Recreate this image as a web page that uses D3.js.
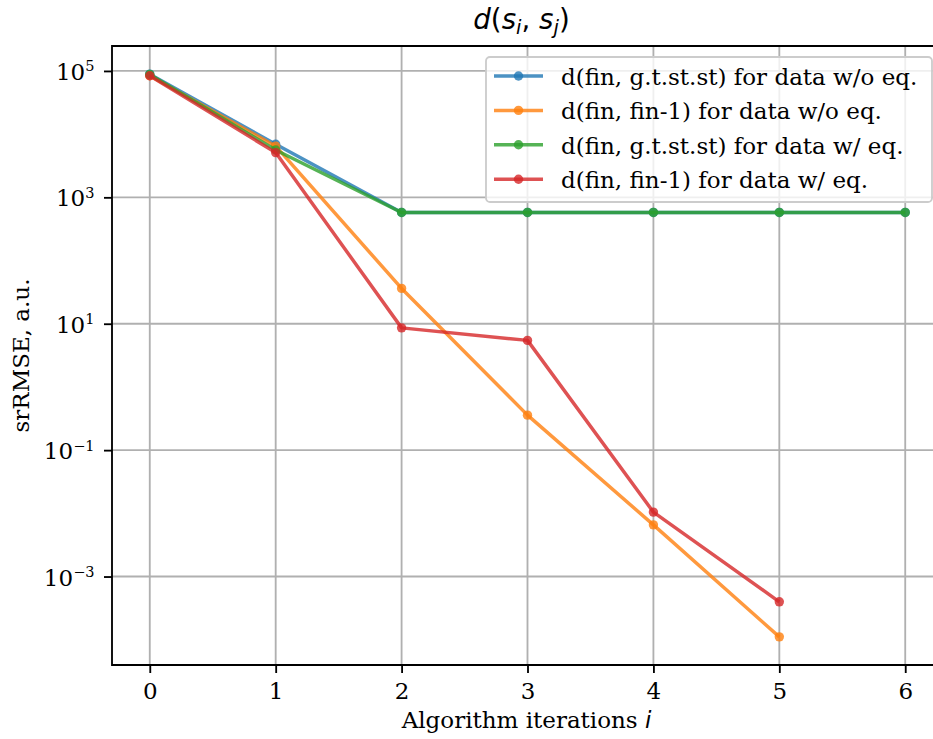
<!DOCTYPE html>
<html>
<head>
<meta charset="utf-8">
<script src="https://cdn.jsdelivr.net/npm/d3@7"></script>
<style>
    body { margin: 0; background: #fff; }
    #chart-area { width: 933px; height: 739px; overflow: hidden; }
    .axis path { display: none; }
    .axis line { stroke: #000; stroke-width: 1.84; }
</style>
</head>
<body>
<div id="chart-area"></div>
<script>

// iterations on the x axis
const iterations = [0, 1, 2, 3, 4, 5, 6];

// srRMSE values, one array per series
const gtWithoutEq = [89000, 6900, 575, 577, 577, 577, 577];
const prevWithoutEq = [84000, 6450, 36.2, 0.358, 0.00657, 0.000111];
const gtWithEq = [88000, 5600, 577, 577, 577, 577, 577];
const prevWithEq = [84000, 5100, 8.6, 5.45, 0.01045, 0.000398];

const seriesNames = ["d(fin, g.t.st.st) for data w/o eq.",
    "d(fin, fin-1) for data w/o eq.",
    "d(fin, g.t.st.st) for data w/ eq.",
    "d(fin, fin-1) for data w/ eq."];
const seriesValues = [gtWithoutEq, prevWithoutEq, gtWithEq, prevWithEq];
const seriesColors = ["#1f77b4", "#ff7f0e", "#2ca02c", "#d62728"];

// tick labels: mantissa is always 10, exponent goes in the superscript
const yTickExponents = [5, 3, 1, -1, -3];
const xTickLabels = ["0", "1", "2", "3", "4", "5", "6"];

const SERIF = "'DejaVu Serif', serif";
const MATH = "'DejaVu Sans', sans-serif";
const FS = "23px";


class LogLineChart {

    constructor(parentElement) {
        this.parentElement = parentElement;
        this.initVis();
    }

    initVis() {
        let vis = this;

        vis.margin = {top: 46, right: 0, bottom: 74, left: 112};
        // the plot runs a little past the right edge of the picture (cropped figure)
        vis.width = 831;
        vis.height = 619;

        vis.svg = d3.select("#" + vis.parentElement).append("svg")
            .attr("width", 933)
            .attr("height", 739)
            .append("g")
            .attr("transform", `translate(${vis.margin.left}, ${vis.margin.top})`);

        // scales, with matplotlib's 5% margins
        vis.x = d3.scaleLinear()
            .domain([-0.3, 6.3])
            .range([0, vis.width]);

        let all = seriesValues.flat();
        let lo = Math.log10(d3.min(all)), hi = Math.log10(d3.max(all));
        let pad = (hi - lo) * 0.05;
        vis.y = d3.scaleLog()
            .domain([Math.pow(10, lo - pad), Math.pow(10, hi + pad)])
            .range([vis.height, 0]);

        // grid
        let grid = vis.svg.append("g").attr("class", "grid");
        grid.selectAll(".vgrid").data(iterations).enter().append("line")
            .attr("x1", d => vis.x(d)).attr("x2", d => vis.x(d))
            .attr("y1", 0).attr("y2", vis.height)
            .attr("stroke", "#b0b0b0").attr("stroke-width", 1.84);
        grid.selectAll(".hgrid").data(yTickExponents).enter().append("line")
            .attr("x1", 0).attr("x2", vis.width)
            .attr("y1", d => vis.y(Math.pow(10, d))).attr("y2", d => vis.y(Math.pow(10, d)))
            .attr("stroke", "#b0b0b0").attr("stroke-width", 1.84);

        // axes
        vis.xAxis = d3.axisBottom(vis.x)
            .tickValues(iterations)
            .tickFormat((d, i) => xTickLabels[i])
            .tickSize(8)
            .tickPadding(9.5);
        vis.yAxis = d3.axisLeft(vis.y)
            .tickValues(yTickExponents.map(e => Math.pow(10, e)))
            .tickFormat("")
            .tickSize(8);

        vis.svg.append("g")
            .attr("class", "x-axis axis")
            .attr("transform", `translate(0, ${vis.height})`)
            .call(vis.xAxis)
            .selectAll("text")
            .style("font-size", FS)
            .style("font-family", SERIF)
            .attr("fill", "#000");

        let yAxisG = vis.svg.append("g")
            .attr("class", "y-axis axis")
            .call(vis.yAxis);

        // power-of-ten labels
        yAxisG.selectAll(".tick").each(function (d, i) {
            let t = d3.select(this).append("text")
                .attr("x", -17.5)
                .attr("y", 8.6)
                .attr("text-anchor", "end")
                .attr("fill", "#000")
                .style("font-family", SERIF)
                .style("font-size", FS);
            t.append("tspan").text("10");
            t.append("tspan")
                .attr("dy", -8.6)
                .style("font-size", "14.5px")
                .text(String(yTickExponents[i]).replace("-", "\u2212"));
        });

        // spines (left, top, bottom; right one falls outside the picture)
        vis.svg.append("path")
            .attr("d", `M${vis.width},0H0V${vis.height}H${vis.width}`)
            .attr("fill", "none")
            .attr("stroke", "#000")
            .attr("stroke-width", 1.84);

        // axis labels
        let xl = vis.svg.append("text")
            .attr("x", 414.5)
            .attr("y", 682.3)
            .attr("text-anchor", "middle")
            .style("font-family", SERIF)
            .style("font-size", FS);
        xl.append("tspan").text("Algorithm iterations ");
        xl.append("tspan")
            .style("font-family", MATH)
            .style("font-style", "italic")
            .text("i");

        vis.svg.append("text")
            .attr("transform", `translate(-83, ${vis.height / 2}) rotate(-90)`)
            .attr("text-anchor", "middle")
            .style("font-family", SERIF)
            .style("font-size", FS)
            .text("srRMSE, a.u.");

        // title d(s_i, s_j)
        let title = vis.svg.append("text")
            .attr("x", 409.5)
            .attr("y", -17)
            .attr("text-anchor", "middle")
            .style("font-family", MATH)
            .style("font-size", "27.7px");
        title.append("tspan").style("font-style", "italic").text("d");
        title.append("tspan").text("(");
        title.append("tspan").style("font-style", "italic").text("s");
        title.append("tspan").style("font-style", "italic").style("font-size", "19.4px").attr("dy", 5).text("i");
        title.append("tspan").attr("dy", -5).text(", ");
        title.append("tspan").style("font-style", "italic").text("s");
        title.append("tspan").style("font-style", "italic").style("font-size", "19.4px").attr("dy", 5).text("j");
        title.append("tspan").attr("dy", -5).text(")");

        vis.updateVis();
    }

    updateVis() {
        let vis = this;

        let line = d3.line()
            .x((d, i) => vis.x(iterations[i]))
            .y(d => vis.y(d));

        seriesValues.forEach((values, k) => {
            let g = vis.svg.append("g").attr("class", "series-" + k);
            g.append("path").datum(values)
                .attr("fill", "none")
                .attr("stroke", seriesColors[k])
                .attr("stroke-opacity", 0.8)
                .attr("stroke-width", 3.45)
                .attr("stroke-linejoin", "round")
                .attr("d", line);
            g.selectAll("circle").data(values).enter().append("circle")
                .attr("cx", (d, i) => vis.x(iterations[i]))
                .attr("cy", d => vis.y(d))
                .attr("r", 4.7)
                .attr("fill", seriesColors[k])
                .attr("fill-opacity", 0.8);
        });

        // legend
        let lg = vis.svg.append("g")
            .attr("class", "legend")
            .attr("transform", `translate(${486 - vis.margin.left}, ${57 - vis.margin.top})`);
        lg.append("rect")
            .attr("width", 446).attr("height", 145)
            .attr("rx", 4).attr("ry", 4)
            .attr("fill", "#fff").attr("fill-opacity", 0.8)
            .attr("stroke", "#cccccc").attr("stroke-width", 1.84);

        let rows = lg.selectAll(".row").data(seriesNames).enter().append("g")
            .attr("class", "row")
            .attr("transform", (d, i) => `translate(0, ${19 + i * 34.4})`);
        rows.append("line")
            .attr("x1", 8).attr("x2", 57)
            .attr("stroke", (d, i) => seriesColors[i])
            .attr("stroke-opacity", 0.8)
            .attr("stroke-width", 3.45);
        rows.append("circle")
            .attr("cx", 32.5).attr("r", 4.7)
            .attr("fill", (d, i) => seriesColors[i])
            .attr("fill-opacity", 0.8);
        rows.append("text")
            .attr("x", 75).attr("y", 9)
            .style("font-family", SERIF)
            .style("font-size", FS)
            .text(d => d);
    }
}

new LogLineChart("chart-area");

</script>
</body>
</html>
